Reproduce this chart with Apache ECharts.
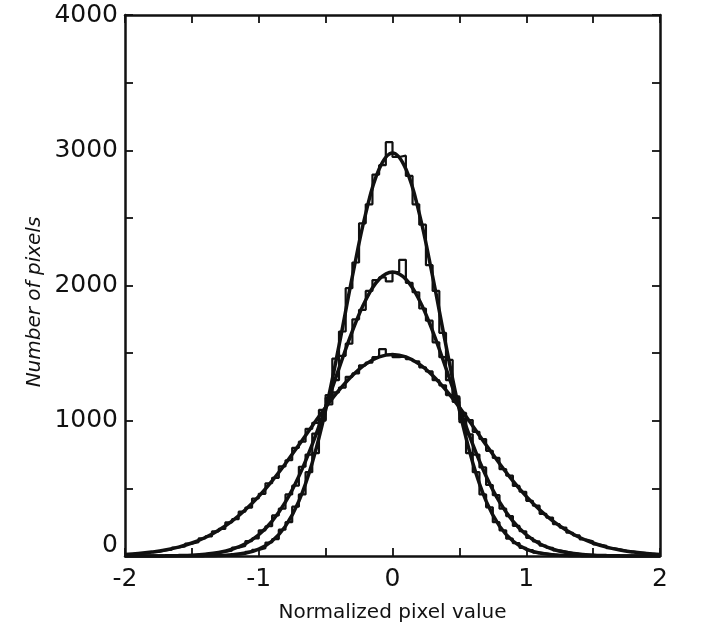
<!DOCTYPE html>
<html><head><meta charset="utf-8">
<script src="https://cdn.jsdelivr.net/npm/echarts@6/dist/echarts.min.js"></script>
<style>html,body{margin:0;padding:0;background:#fff}#c{width:712px;height:630px}</style>
</head><body><div id="c"></div>
<script>
// Histogram bins: 80 bins of width 0.05 from -2 to 2
const binStart = -2, binWidth = 0.05;
const histNarrow = [0,0,0,0,0,0,0,0,0,0,0,0,
  2,3,5,8,12,15,30,45,58,100,125,195,250,365,455,620,760,1000,1170,1460,1660,1980,2170,2460,2600,2820,2890,3060,
  2950,2960,2810,2600,2450,2150,1960,1650,1450,1170,990,760,620,455,360,250,190,128,95,60,44,25,18,10,7,4,2,1,
  0,0,0,0,0,0,0,0,0,0,0,0];
const histMedium = [0,0,0,0,0,0,
  1,2,4,5,8,10,17,20,33,40,62,75,110,130,190,220,300,350,455,520,660,750,905,1010,1190,1300,1480,1570,1750,1820,1960,2040,2060,2030,
  2100,2190,2020,1950,1830,1740,1580,1470,1300,1180,1010,900,750,655,525,450,350,295,222,183,133,108,76,61,41,32,21,16,10,8,4,3,1,1,
  0,0,0,0,0,0];
const histWide = [12,17,20,28,30,42,47,63,70,92,102,130,145,182,200,248,272,328,358,425,460,538,578,662,708,800,845,940,985,1080,1120,1210,1245,1325,1350,1410,1430,1470,1530,1490,
  1470,1475,1455,1440,1395,1365,1300,1262,1190,1140,1058,1005,918,865,778,725,642,595,518,475,408,372,312,284,235,210,172,152,122,108,85,75,58,50,38,33,25,21,15,13];

// Fitted curves sampled every 0.1 from -2 to 2
const fitStart = -2, fitStep = 0.1;
const fitNarrow = [0,0,0,0,0,0,1,3,9,22,51,111,221,406,690,1078,1555,2067,2533,2861,2980,2861,2533,2067,1555,1078,690,406,221,111,51,22,9,3,1,0,0,0,0,0,0];
const fitMedium = [0,0,0,1,3,6,13,26,50,91,157,258,400,590,826,1099,1387,1663,1893,2046,2100,2046,1893,1663,1387,1099,826,590,400,258,157,91,50,26,13,6,3,1,0,0,0];
const fitWide = [11,18,29,44,66,96,137,191,258,342,441,556,684,821,962,1099,1226,1335,1419,1472,1490,1472,1419,1335,1226,1099,962,821,684,556,441,342,258,191,137,96,66,44,29,18,11];

const xTicks = [-2,-1,0,1,2];
const yTicks = [0,1000,2000,3000,4000];

function histData(vals){
  const d = vals.map((v,i)=>[+(binStart+i*binWidth).toFixed(3), v]);
  d.push([+(binStart+vals.length*binWidth).toFixed(3), vals[vals.length-1]]);
  return d;
}
function fitData(vals){
  return vals.map((v,i)=>[+(fitStart+i*fitStep).toFixed(3), v]);
}

const ink = '#111';
const FONT = 'DejaVu Sans';
const chart = echarts.init(document.getElementById('c'), null, {renderer:'canvas'});

const histStyle = {color: ink, width: 2.2};
const fitStyle = {color: ink, width: 3.5};
const mk = (name, data, style, extra) => Object.assign({
  name, type:'line', data, symbol:'none', lineStyle: style, itemStyle:{color: ink},
  animation:false, silent:true
}, extra);

chart.setOption({
  backgroundColor:'#fff',
  animation:false,
  grid:{left:125, right:52, top:15, bottom:74, containLabel:false},
  xAxis:[{
    type:'value', min:-2, max:2, interval:1, position:'bottom',
    axisLine:{show:true, onZero:false, lineStyle:{color:ink, width:2.5}},
    axisTick:{show:true, inside:true, length:8, lineStyle:{color:ink, width:1.8}},
    minorTick:{show:true, splitNumber:2, length:8, lineStyle:{color:ink, width:1.8}},
    splitLine:{show:false},
    axisLabel:{color:ink, fontFamily:FONT, fontSize:25, margin:11,
      formatter:v=> xTicks.includes(v) ? String(v) : ''},
    name:'Normalized pixel value', nameLocation:'middle', nameGap:47,
    nameTextStyle:{color:ink, fontFamily:FONT, fontSize:20}
  },{
    type:'value', min:-2, max:2, interval:1, position:'top',
    axisLine:{show:true, onZero:false, lineStyle:{color:ink, width:2.5}},
    axisTick:{show:true, inside:true, length:8, lineStyle:{color:ink, width:1.8}},
    minorTick:{show:true, splitNumber:2, length:8, lineStyle:{color:ink, width:1.8}},
    splitLine:{show:false}, axisLabel:{show:false}
  }],
  yAxis:[{
    type:'value', min:0, max:4000, interval:1000, position:'left',
    axisLine:{show:true, onZero:false, lineStyle:{color:ink, width:2.5}},
    axisTick:{show:true, inside:true, length:8, lineStyle:{color:ink, width:1.8}},
    minorTick:{show:true, splitNumber:2, length:8, lineStyle:{color:ink, width:1.8}},
    splitLine:{show:false},
    axisLabel:{color:ink, fontFamily:FONT, fontSize:25, margin:7,
      formatter:v=> v===0 ? '{z|0}' : (yTicks.includes(v) ? String(v) : ''),
      rich:{z:{fontFamily:FONT, fontSize:25, color:ink, padding:[0,0,22,0]}}}
  },{
    type:'value', min:0, max:4000, interval:1000, position:'right',
    axisLine:{show:true, onZero:false, lineStyle:{color:ink, width:2.5}},
    axisTick:{show:true, inside:true, length:8, lineStyle:{color:ink, width:1.8}},
    minorTick:{show:true, splitNumber:2, length:8, lineStyle:{color:ink, width:1.8}},
    splitLine:{show:false}, axisLabel:{show:false}
  }],
  graphic:[{
    type:'text', x:35, y:302, rotation:Math.PI/2,
    style:{text:'Number of pixels', fill:ink, font:'italic 20px "DejaVu Sans"', align:'center', verticalAlign:'middle'}
  }],
  series:[
    mk('Narrow histogram', histData(histNarrow), histStyle, {step:'end'}),
    mk('Medium histogram', histData(histMedium), histStyle, {step:'end'}),
    mk('Wide histogram', histData(histWide), histStyle, {step:'end'}),
    mk('Narrow fit', fitData(fitNarrow), fitStyle, {smooth:0.4}),
    mk('Medium fit', fitData(fitMedium), fitStyle, {smooth:0.4}),
    mk('Wide fit', fitData(fitWide), fitStyle, {smooth:0.4})
  ]
});
</script>
</body></html>
